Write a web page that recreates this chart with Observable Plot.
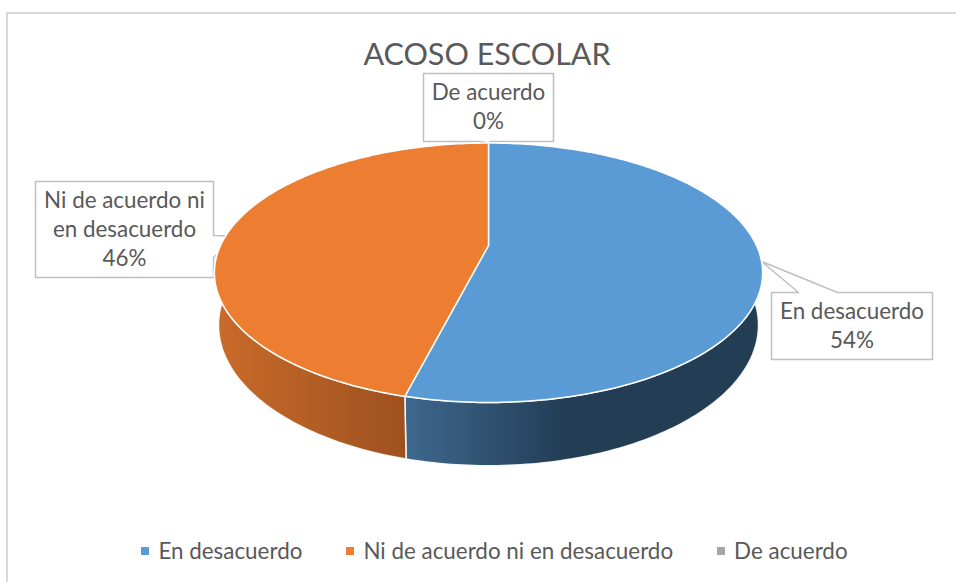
<!DOCTYPE html>
<html><head><meta charset="utf-8">
<script src="https://cdn.jsdelivr.net/npm/d3@7"></script>
<script src="https://cdn.jsdelivr.net/npm/@observablehq/plot@0.6"></script>
<style>
html,body{margin:0;padding:0;background:#fff;overflow:hidden;}
#wrap{position:relative;width:956px;height:582px;overflow:hidden;font-family:Lato,"Open Sans",sans-serif;color:#595959;}
#frame{position:absolute;left:6px;top:12px;width:1000px;height:1000px;border:2px solid #d9d9d9;box-sizing:border-box;}
#chart{position:absolute;left:0;top:0;}
#title{position:absolute;top:38px;left:487px;transform:translateX(-50%);font-size:30.5px;white-space:nowrap;line-height:1;}
#legend{position:absolute;top:537px;left:0;width:989px;display:flex;justify-content:center;gap:44px;font-size:22.4px;line-height:28px;white-space:nowrap;}
.item{display:flex;align-items:center;}
.sw{width:8px;height:8px;margin-right:9px;}
</style>
</head><body>
<div id="wrap">
  <div id="frame"></div>
  <div id="chart"></div>
  <div id="title">ACOSO ESCOLAR</div>
  <div id="legend"></div>
</div>
<script>
// ---- data ----
const categories = ["En desacuerdo", "Ni de acuerdo ni en desacuerdo", "De acuerdo"];
const percents = [54, 46, 0];
const labelLines = [["En desacuerdo", "54%"], ["Ni de acuerdo ni", "en desacuerdo", "46%"], ["De acuerdo", "0%"]];
const topColors = ["#5b9bd5", "#ed7d31", "#a5a5a5"];
const sideLight = ["#3e688e", "#c96b2b", "#8c8c8c"];
const sideDark = ["#233d55", "#9e511f", "#5e5e5e"];
const sideDarkAt = [0.45, 1, 1];

// ---- layout ----
const W = 956, H = 582;
const PIE = {cx: 488, cy: 245, rx: 268, ry: 124, persp: 0.21, depth: 50, bottomShrink: 0.985};
const boxes = [
  {x0: 771, y0: 292, x1: 932, y1: 359, side: "top", b0: 798, b1: 837},
  {x0: 35, y0: 181, x1: 213, y1: 277, side: "right", b0: 235, b1: 257},
  {x0: 423, y0: 73, x1: 553, y1: 141, side: "bottom", b0: 479, b1: 490}
];
const lineStep = 29, labelSize = 22.4;

function proj(deg, level) {
  const t = deg * Math.PI / 180;
  const X = Math.sin(t), Z = -Math.cos(t);
  const s = 1 / (1 - PIE.persp * Z);
  const shrink = level ? PIE.bottomShrink : 1;
  return {x: PIE.cx + PIE.rx * X * s * shrink, y: PIE.cy + PIE.ry * Z * s + level * PIE.depth * s};
}
function arc(a0, a1, level) {
  const pts = [];
  const n = Math.max(2, Math.ceil(Math.abs(a1 - a0)));
  for (let i = 0; i <= n; i++) pts.push(proj(a0 + (a1 - a0) * i / n, level));
  return pts;
}

const total = d3.sum(percents);
let acc = 0;
const slices = categories.map((c, i) => {
  const a0 = acc / total * 360; acc += percents[i]; const a1 = acc / total * 360;
  return {i, c, v: percents[i], a0, a1, mid: (a0 + a1) / 2};
});

const marks = [];
// callouts (drawn under the pie)
const labelRows = [];
slices.forEach((s, i) => {
  const b = boxes[i];
  const tip = proj(s.mid, 0);
  let poly;
  if (b.side === "top") poly = [{x: b.x0, y: b.y0}, {x: b.b0, y: b.y0}, tip, {x: b.b1, y: b.y0}, {x: b.x1, y: b.y0}, {x: b.x1, y: b.y1}, {x: b.x0, y: b.y1}, {x: b.x0, y: b.y0}];
  else if (b.side === "right") poly = [{x: b.x0, y: b.y0}, {x: b.x1, y: b.y0}, {x: b.x1, y: b.b0}, {x: tip.x + 8, y: tip.y + 6}, {x: b.x1, y: b.b1}, {x: b.x1, y: b.y1}, {x: b.x0, y: b.y1}, {x: b.x0, y: b.y0}];
  else poly = [{x: b.x0, y: b.y0}, {x: b.x1, y: b.y0}, {x: b.x1, y: b.y1}, {x: b.b1, y: b.y1}, tip, {x: b.b0, y: b.y1}, {x: b.x0, y: b.y1}, {x: b.x0, y: b.y0}];
  marks.push(Plot.line(poly, {x: "x", y: "y", fill: "white", stroke: "#bfbfbf", strokeWidth: 1.5, curve: "linear"}));
  const lines = labelLines[i], n = lines.length;
  const cxB = (b.x0 + b.x1) / 2, cyB = (b.y0 + b.y1) / 2;
  lines.forEach((t, j) => labelRows.push({x: cxB, y: cyB + (j - (n - 1) / 2) * lineStep, t}));
});
marks.push(Plot.text(labelRows, {x: "x", y: "y", text: "t", fill: "#595959", fontSize: labelSize, fontFamily: "Lato, 'Open Sans', sans-serif", textAnchor: "middle", lineAnchor: "middle"}));

// side walls
const gradDefs = [];
slices.filter(s => s.v > 0).forEach(s => {
  const lo = Math.max(s.a0, 60), hi = Math.min(s.a1, 300);
  if (hi <= lo) return;
  const top = arc(lo, hi, 0), bot = arc(hi, lo, 1);
  const poly = [...top, ...bot, top[0]];
  const visLo = Math.max(s.a0, 90), visHi = Math.min(s.a1, 270);
  const vx = arc(visLo, visHi, 0).map(p => p.x);
  gradDefs.push({id: "side" + s.i, x1: d3.min(vx), x2: d3.max(vx), light: sideLight[s.i], dark: sideDark[s.i], at: sideDarkAt[s.i]});
  marks.push(Plot.line(poly, {x: "x", y: "y", fill: `url(#side${s.i})`, stroke: "white", strokeWidth: 1.5, strokeOpacity: 0.9, curve: "linear"}));
});
// top faces
slices.filter(s => s.v > 0).forEach(s => {
  const center = {x: PIE.cx, y: PIE.cy};
  const poly = [center, ...arc(s.a0, s.a1, 0), center];
  marks.push(Plot.line(poly, {x: "x", y: "y", fill: topColors[s.i], stroke: "white", strokeWidth: 1.5, curve: "linear"}));
});

const svg = Plot.plot({
  width: W, height: H, margin: 0,
  x: {domain: [0, W], range: [0, W], axis: null},
  y: {domain: [0, H], range: [0, H], axis: null},
  style: {background: "transparent", overflow: "visible"},
  marks
});
const ns = "http://www.w3.org/2000/svg";
const defs = document.createElementNS(ns, "defs");
gradDefs.forEach(g => {
  const lg = document.createElementNS(ns, "linearGradient");
  lg.setAttribute("id", g.id); lg.setAttribute("gradientUnits", "userSpaceOnUse");
  lg.setAttribute("x1", g.x1); lg.setAttribute("x2", g.x2); lg.setAttribute("y1", 0); lg.setAttribute("y2", 0);
  [[0, g.light], [g.at, g.dark], [1, g.dark]].forEach(([o, c]) => {
    const st = document.createElementNS(ns, "stop"); st.setAttribute("offset", o); st.setAttribute("stop-color", c); lg.appendChild(st);
  });
  defs.appendChild(lg);
});
svg.insertBefore(defs, svg.firstChild);
document.getElementById("chart").appendChild(svg);

// legend
const leg = document.getElementById("legend");
categories.forEach((c, i) => {
  const it = document.createElement("div"); it.className = "item";
  const sw = document.createElement("span"); sw.className = "sw"; sw.style.background = topColors[i];
  const tx = document.createElement("span"); tx.textContent = c;
  it.appendChild(sw); it.appendChild(tx); leg.appendChild(it);
});
</script>
</body></html>
